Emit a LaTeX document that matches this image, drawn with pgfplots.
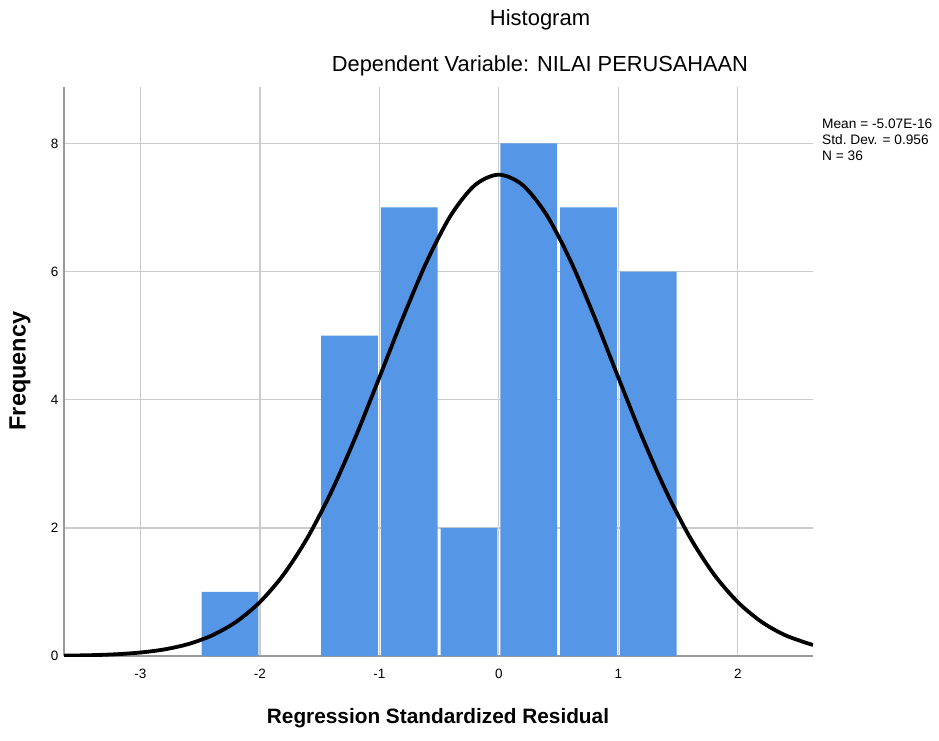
\documentclass[border=0pt]{standalone}
\usepackage{pgfplots}
\pgfplotsset{compat=1.18}
\usepackage{fontspec}
\setmainfont{Liberation Sans}
\definecolor{barblue}{HTML}{5596E6}
\definecolor{gridgray}{HTML}{CCCCCC}
\definecolor{axgray}{HTML}{9A9A9A}
\begin{document}
\begin{tikzpicture}[x=1pt,y=1pt]
\path[use as bounding box] (0,0) rectangle (939,740);
\begin{axis}[
    at={(64pt,84pt)}, anchor=south west,
    scale only axis, width=749pt, height=569pt,
    xmin=-3.64, xmax=2.63, ymin=0, ymax=8.88,
    xtick={-3,-2,-1,0,1,2}, ytick={0,2,4,6,8},
    axis x line*=bottom, axis y line*=left,
    axis line style={axgray, line width=2pt},
    grid=major, major grid style={gridgray, line width=1.3pt},
    major tick length=0pt,
    tick label style={font=\fontsize{13.5}{15}\selectfont},
    xticklabel style={yshift=-10pt},
    yticklabel style={xshift=-2pt},
    /pgf/number format/assume math mode=true,
]
% histogram counts, bin width 0.5 (bin centres)
\addplot[ybar, bar width=0.475, bar shift=0pt, fill=barblue, draw=none] coordinates {
    (-2.25,1) (-1.25,5) (-0.75,7) (-0.25,2) (0.25,8) (0.75,7) (1.25,6)
};
% normal curve, mean 0, sd 0.956, N=36
\addplot[black, line width=3.8pt, smooth] coordinates {
    (-3.64,0.0053) (-3.4,0.0135) (-3.2,0.0277) (-3.0,0.0546) (-2.8,0.103)
    (-2.6,0.186) (-2.4,0.322) (-2.2,0.532) (-2.0,0.842) (-1.8,1.276)
    (-1.6,1.852) (-1.4,2.571) (-1.2,3.417) (-1.0,4.347) (-0.8,5.293)
    (-0.6,6.169) (-0.4,6.883) (-0.2,7.349) (0,7.512) (0.2,7.349)
    (0.4,6.883) (0.6,6.169) (0.8,5.293) (1.0,4.347) (1.2,3.417)
    (1.4,2.571) (1.6,1.852) (1.8,1.276) (2.0,0.842) (2.2,0.532)
    (2.4,0.322) (2.63,0.171)
};
\end{axis}
\node[font=\fontsize{22}{26}\selectfont] at (540,720) {Histogram};
\node[font=\fontsize{21.8}{26}\selectfont] at (540,674) {Dependent Variable: NILAI PERUSAHAAN};
\node[anchor=north west, align=left, inner sep=0pt, font=\fontsize{13.7}{16}\selectfont] at (822,621)
    {Mean = -5.07E-16\\Std.\ Dev. = 0.956\\N = 36};
\node[rotate=90, font=\bfseries\fontsize{23.5}{26}\selectfont] at (20,369) {Frequency};
\node[font=\bfseries\fontsize{20.8}{24}\selectfont] at (438,22) {Regression Standardized Residual};
\end{tikzpicture}
\end{document}
